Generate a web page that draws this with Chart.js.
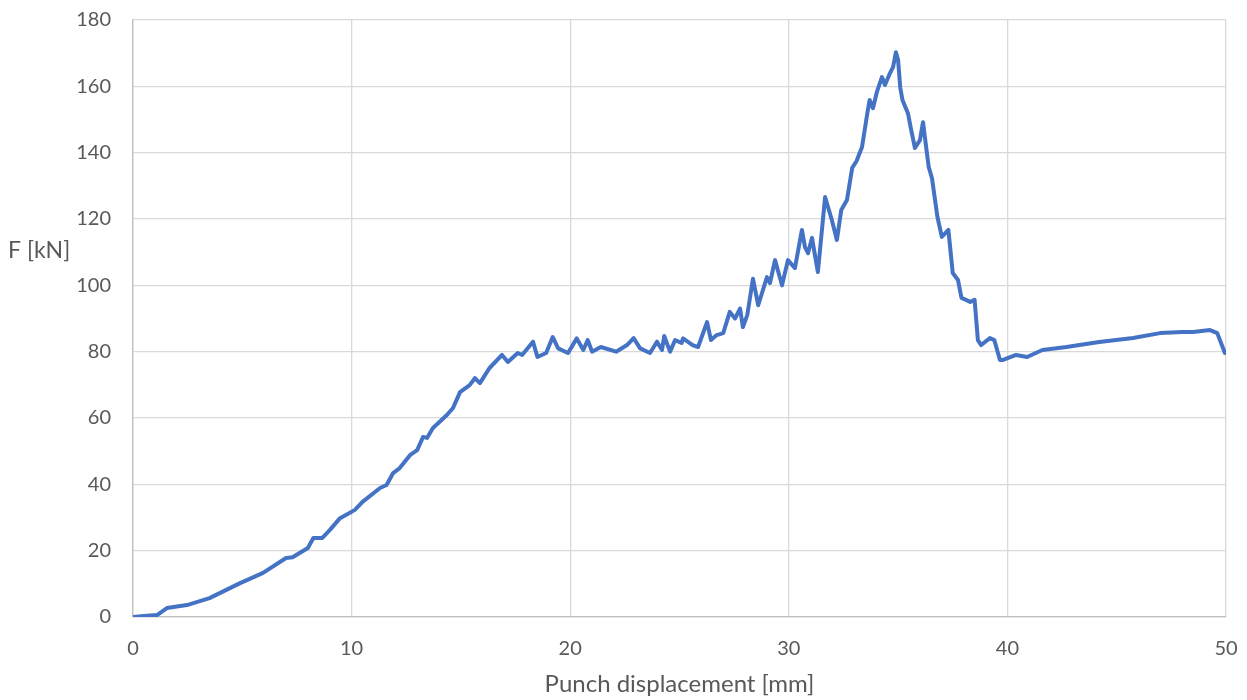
<!DOCTYPE html>
<html>
<head>
<meta charset="utf-8">
<script src="https://cdn.jsdelivr.net/npm/chart.js@4/dist/chart.umd.min.js"></script>
<style>
  html, body { margin: 0; padding: 0; background: #ffffff; }
  #wrap { width: 1247px; height: 700px; }
</style>
</head>
<body>
<div id="wrap"><canvas id="c" width="1247" height="700"></canvas></div>
<script>
// Punch displacement [mm]
const displacement = [
  0, 0.5, 1.1, 1.55, 2.47, 3.5, 4.9, 5.95, 7.0, 7.3, 8.0, 8.25, 8.65, 9.0, 9.47, 9.8,
  10.15, 10.5, 11.3, 11.6, 11.9, 12.2, 12.67, 13.0, 13.27, 13.45, 13.72, 14.36, 14.64,
  14.96, 15.4, 15.64, 15.87, 16.3, 16.88, 17.15, 17.6, 17.8, 18.3, 18.5, 18.9, 19.2,
  19.45, 19.9, 20.3, 20.6, 20.8, 21.0, 21.4, 22.1, 22.6, 22.9, 23.2, 23.65, 23.97, 24.2,
  24.3, 24.57, 24.8, 25.1, 25.16, 25.6, 25.85, 26.26, 26.44, 26.7, 27.0, 27.3, 27.54,
  27.77, 27.9, 28.1, 28.36, 28.6, 29.0, 29.14, 29.37, 29.69, 29.96, 30.28, 30.6, 30.74,
  30.88, 31.06, 31.33, 31.66, 31.97, 32.2, 32.4, 32.66, 32.9, 33.1, 33.35, 33.6, 33.7,
  33.85, 34.03, 34.26, 34.4, 34.63, 34.77, 34.9, 35.0, 35.1, 35.2, 35.45, 35.6, 35.77,
  36.0, 36.14, 36.3, 36.4, 36.55, 36.8, 37.0, 37.3, 37.5, 37.74, 37.9, 38.3, 38.5, 38.65,
  38.8, 39.2, 39.4, 39.66, 39.8, 40.4, 40.9, 41.6, 42.7, 44.2, 45.75, 46.98, 48.0, 48.5,
  49.27, 49.6, 49.95
];

// Punch force F [kN]
const force = [
  0, 0.3, 0.6, 2.7, 3.6, 5.7, 10.2, 13.3, 17.8, 18.0, 20.8, 23.8, 23.8, 26.2, 29.8, 31.0,
  32.3, 34.7, 38.9, 39.8, 43.4, 44.9, 48.8, 50.3, 54.3, 54.0, 57.0, 60.9, 63.0,
  67.8, 69.9, 72.0, 70.5, 75.0, 79.0, 76.9, 79.6, 79.0, 83.0, 78.4, 79.6, 84.4,
  81.0, 79.6, 84.0, 80.5, 83.5, 80.0, 81.4, 80.0, 82.0, 84.1, 81.0, 79.6, 83.0, 80.5,
  84.7, 80.0, 83.5, 82.6, 84.0, 82.0, 81.4, 88.9, 83.5, 85.0, 85.6, 92.0, 90.0,
  93.0, 87.4, 91.0, 102.0, 94.0, 102.5, 100.7, 107.6, 100.0, 107.6, 105.2, 116.7, 111.5,
  109.7, 114.3, 104.0, 126.6, 119.7, 113.7, 122.7, 125.7, 135.4, 137.5, 141.7, 152.2, 155.9,
  153.4, 158.3, 162.8, 160.4, 164.0, 165.8, 170.3, 167.9, 159.5, 155.9, 151.9, 146.8, 141.4,
  143.8, 149.2, 140.8, 135.7, 132.3, 120.6, 114.6, 116.7, 103.7, 101.6, 96.2, 95.0, 95.6, 83.5,
  82.0, 84.1, 83.5, 77.5, 77.5, 79.0, 78.4, 80.5, 81.4, 82.9, 84.1, 85.6, 85.9, 85.9,
  86.5, 85.6, 79.6
];

// Axis ticks
const xTicks = [0, 10, 20, 30, 40, 50];
const yTicks = [0, 20, 40, 60, 80, 100, 120, 140, 160, 180];

const textColor = '#595959';
const fontFamily = 'Lato, "Open Sans", sans-serif';

const points = displacement.map((x, i) => ({ x: x, y: force[i] }));

// Horizontal y-axis caption drawn left of the plot area
const yCaption = {
  id: 'yCaption',
  afterDraw(chart) {
    const ctx = chart.ctx;
    const area = chart.chartArea;
    ctx.save();
    ctx.fillStyle = textColor;
    ctx.font = '23px ' + fontFamily;
    ctx.textAlign = 'left';
    ctx.textBaseline = 'middle';
    ctx.fillText('F [kN]', 8, (area.top + area.bottom) / 2 - 68);
    ctx.restore();
  }
};

new Chart(document.getElementById('c'), {
  type: 'line',
  data: {
    datasets: [{
      data: points,
      borderColor: '#4472C4',
      backgroundColor: '#4472C4',
      borderWidth: 4,
      pointRadius: 0,
      tension: 0,
      fill: false,
      borderJoinStyle: 'round',
      borderCapStyle: 'round'
    }]
  },
  options: {
    responsive: false,
    animation: false,
    layout: { padding: { top: 20, right: 21, left: 0, bottom: 0 } },
    plugins: {
      legend: { display: false },
      tooltip: { enabled: false }
    },
    scales: {
      x: {
        type: 'linear',
        min: xTicks[0],
        max: xTicks[xTicks.length - 1],
        afterBuildTicks(scale) { scale.ticks = xTicks.map(v => ({ value: v })); },
        afterFit(scale) {
          scale.height = 83;
          scale.paddingLeft = 0;
          scale.paddingRight = 0;
        },
        grid: { color: '#d9d9d9', lineWidth: 1.3, drawTicks: false },
        border: { color: '#bfbfbf', width: 1.3 },
        ticks: { color: textColor, font: { family: fontFamily, size: 20 }, padding: 20 },
        title: {
          display: true,
          text: 'Punch displacement [mm]',
          color: textColor,
          font: { family: fontFamily, size: 24 },
          padding: { top: 0, bottom: 1 }
        }
      },
      y: {
        type: 'linear',
        min: yTicks[0],
        max: yTicks[yTicks.length - 1],
        afterBuildTicks(scale) { scale.ticks = yTicks.map(v => ({ value: v })); },
        afterFit(scale) {
          scale.width = 133;
          scale.paddingTop = 0;
          scale.paddingBottom = 0;
        },
        grid: { color: '#d9d9d9', lineWidth: 1.3, drawTicks: false },
        border: { color: '#bfbfbf', width: 1.3 },
        ticks: { color: textColor, font: { family: fontFamily, size: 20 }, padding: 22 }
      }
    }
  },
  plugins: [yCaption]
});
</script>
</body>
</html>
